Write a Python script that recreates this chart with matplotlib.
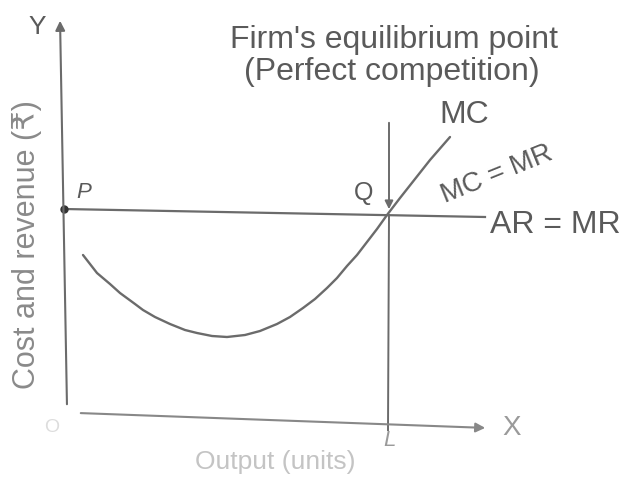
import numpy as np
import matplotlib.pyplot as plt

plt.rcParams['font.family'] = ['Liberation Sans', 'DejaVu Sans']

# MC curve (x, y in picture units, y grows downward)
mc_x = [83, 97, 110, 120, 135, 143, 155, 170, 185, 197, 212, 227, 245, 260, 277,
        290, 303, 315, 327, 337, 347, 357, 367, 377, 387, 400, 415, 430, 450]
mc_y = [255, 273, 284, 293, 304, 310, 317, 324, 330, 333, 336, 337, 335, 331, 324,
        317, 308, 299, 288, 278, 266, 255, 242, 229, 215, 198, 179, 160, 137]

# AR = MR line (price level) from P to its end
ar_x = [64, 485]
ar_y = [209, 217]

# equilibrium output
q_x = 388
q_y = 215

line_col = '#6b6b6b'
text_col = '#5a5a5a'

fig = plt.figure(figsize=(6.3, 4.79), dpi=100)
ax = fig.add_axes([0, 0, 1, 1])
ax.set_xlim(0, 630)
ax.set_ylim(479, 0)
ax.axis('off')

# axes with arrows
ax.annotate('', xy=(60, 18), xytext=(67, 407),
            arrowprops=dict(arrowstyle='-|>', color=line_col, lw=1.5, mutation_scale=14))
ax.annotate('', xy=(488, 428), xytext=(78, 413),
            arrowprops=dict(arrowstyle='-|>', color='#888888', lw=1.5, mutation_scale=14))

# MC curve and AR line
ax.plot(mc_x, mc_y, color=line_col, lw=1.7, solid_capstyle='round', solid_joinstyle='round')
ax.plot(ar_x, ar_y, color=line_col, lw=1.6)
ax.plot(ar_x[0], ar_y[0], 'o', color='#333333', ms=5)

# vertical line through Q down to L
ax.annotate('', xy=(q_x + 1, q_y - 3), xytext=(q_x + 1, 120),
            arrowprops=dict(arrowstyle='-|>', color=line_col, lw=1.4, mutation_scale=12))
ax.plot([q_x + 1, q_x], [q_y, 430], color=line_col, lw=1.4)

# labels
ax.text(394, 40, "Firm's equilibrium point", fontsize=23, color=text_col, ha='center', va='center')
ax.text(392, 72, "(Perfect competition)", fontsize=23, color=text_col, ha='center', va='center')
ax.text(37, 27, 'Y', fontsize=19, color=text_col, ha='center', va='center')
ax.text(84, 192, 'P', fontsize=16, color=text_col, ha='center', va='center', style='italic')
ax.text(364, 193, 'Q', fontsize=18, color=text_col, ha='center', va='center')
ax.text(464, 115, 'MC', fontsize=23, color=text_col, ha='center', va='center')
ax.text(497, 174, 'MC = MR', fontsize=20, color=text_col, ha='center', va='center', rotation=22)
ax.text(490, 225, 'AR = MR', fontsize=23, color=text_col, ha='left', va='center')
ax.text(27, 245, 'Cost and revenue (₹)', fontsize=22, color='#8a8a8a', ha='center', va='center', rotation=90)
ax.text(275, 462, 'Output (units)', fontsize=19, color='#c4c4c4', ha='center', va='center')
ax.text(389, 441, 'L', fontsize=16, color='#9a9a9a', ha='center', va='center', style='italic')
ax.text(512, 428, 'X', fontsize=20, color='#9a9a9a', ha='center', va='center')
ax.text(52, 428, 'O', fontsize=14, color='#dddddd', ha='center', va='center')

fig.savefig('out.png', dpi=100)
